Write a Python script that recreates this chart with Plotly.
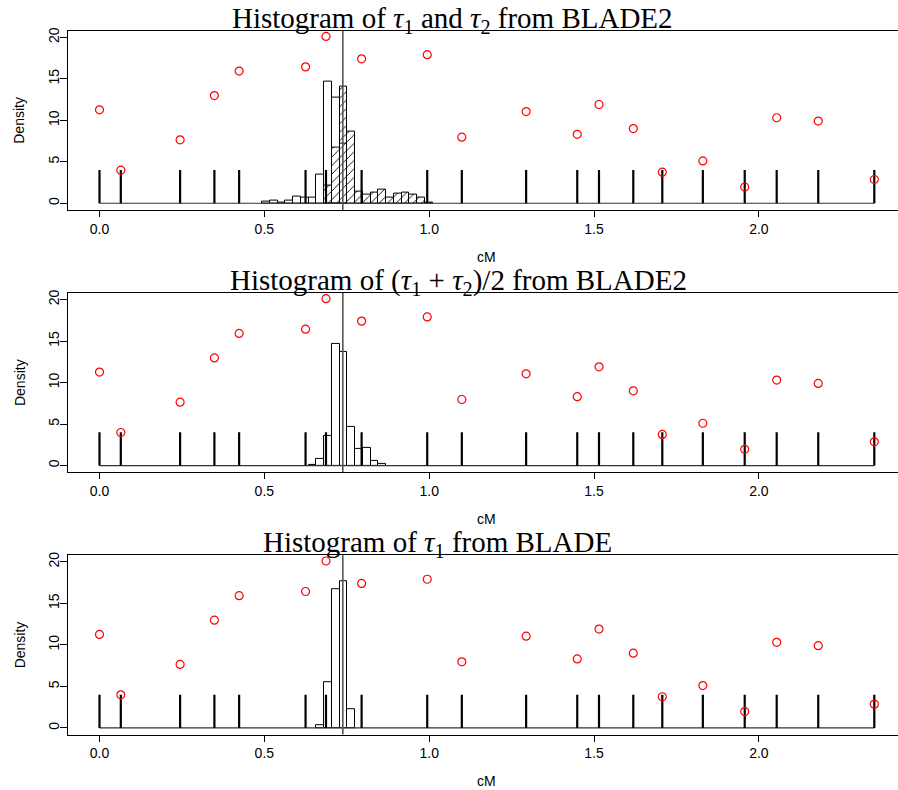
import plotly.graph_objects as go

# ---------------- data ----------------
marker_pos = [0.0, 0.0646, 0.2445, 0.3485, 0.4235, 0.625, 0.687, 0.795, 0.994, 1.099,
              1.294, 1.449, 1.515, 1.619, 1.707, 1.830, 1.957, 2.054, 2.180, 2.35]
marker_value = [11.26, 3.98, 7.64, 12.97, 15.92, 16.43, 20.1, 17.4, 17.9, 7.96,
                11.05, 8.3, 11.9, 9.0, 3.75, 5.1, 1.96, 10.3, 9.9, 2.86]
TICK_HEIGHT = 4
TRUE_POS = 0.738

BIN_WIDTH = 0.0235
tau1_start = 21
tau1_density = [0.2, 0.3, 0.1, 0.3, 0.75, 0.65, 0.7, 3.5, 14.7, 12.75, 7.2]
tau2_start = 29
tau2_density = [2.1, 6.7, 14.1, 8.6, 1.4, 1.0, 1.3, 1.6, 0.7, 1.2, 1.3, 1.0, 0.7, 0.1]
avg_start = 27
avg_density = [0.1, 0.8, 3.6, 14.6, 13.7, 4.7, 2.05, 2.1, 0.55, 0.2]
blade_start = 28
blade_density = [0.3, 5.5, 16.7, 17.7, 2.2]

x_tickvals = [0.0, 0.5, 1.0, 1.5, 2.0]
x_ticktext = ["0.0", "0.5", "1.0", "1.5", "2.0"]
y_tickvals = [0, 5, 10, 15, 20]
y_ticktext = ["0", "5", "10", "15", "20"]

titles = [
    "Histogram of <i>τ</i><sub>1</sub> and <i>τ</i><sub>2</sub> from BLADE2",
    "Histogram of (<i>τ</i><sub>1</sub> + <i>τ</i><sub>2</sub>)/2 from BLADE2",
    "Histogram of <i>τ</i><sub>1</sub> from BLADE",
]
title_center_px = [452, 458, 437]

# ---------------- layout geometry ----------------
W, H = 898, 790
PANEL_STEP = 263.3
BOX_TOP0 = 27.7
BOX_H = 180
LEFT_PX = 68
X0_PX = 99.5
PX_PER_UNIT = 329.7
x_range = [(LEFT_PX - X0_PX) / PX_PER_UNIT, (W - X0_PX) / PX_PER_UNIT]
y_range = [-0.8, 20.8]

AX_FONT = dict(family="Liberation Sans, Arial, sans-serif", size=14, color="black")
TITLE_FONT = dict(family="Liberation Serif, Times New Roman, serif", size=29, color="black")

fig = go.Figure()


def hist_bars(start, dens, xa, ya, hatched=False):
    xs = [(start + j + 0.5) * BIN_WIDTH for j in range(len(dens))]
    marker = dict(color="rgba(0,0,0,0)", line=dict(color="black", width=1))
    if hatched:
        marker["pattern"] = dict(shape="/", fgcolor="black", bgcolor="rgba(0,0,0,0)",
                                 size=6, solidity=0.15, fillmode="replace")
    return go.Bar(x=xs, y=dens, width=BIN_WIDTH, marker=marker, xaxis=xa, yaxis=ya,
                  showlegend=False, hoverinfo="skip")


panels = [
    [(tau1_start, tau1_density, False), (tau2_start, tau2_density, True)],
    [(avg_start, avg_density, False)],
    [(blade_start, blade_density, False)],
]

for i in range(3):
    sfx = "" if i == 0 else str(i + 1)
    xa, ya = "x" + sfx, "y" + sfx
    top = BOX_TOP0 + i * PANEL_STEP
    bot = top + BOX_H
    ydom = [1 - bot / H, 1 - top / H]

    for start, dens, hatched in panels[i]:
        fig.add_trace(hist_bars(start, dens, xa, ya, hatched))

    # baseline of zero-height histogram cells
    fig.add_trace(go.Scatter(x=[marker_pos[0], marker_pos[-1]], y=[0, 0], mode="lines",
                             line=dict(color="#333333", width=1.2), xaxis=xa, yaxis=ya,
                             showlegend=False, hoverinfo="skip"))
    # marker ticks
    tx, ty = [], []
    for p in marker_pos:
        tx += [p, p, None]
        ty += [0, TICK_HEIGHT, None]
    fig.add_trace(go.Scatter(x=tx, y=ty, mode="lines", line=dict(color="black", width=2.2),
                             xaxis=xa, yaxis=ya, showlegend=False, hoverinfo="skip"))
    # red circles
    fig.add_trace(go.Scatter(x=marker_pos, y=marker_value, mode="markers",
                             marker=dict(symbol="circle-open", color="red", size=8,
                                         line=dict(width=1.2, color="red")),
                             xaxis=xa, yaxis=ya, showlegend=False, hoverinfo="skip"))
    # true position line
    fig.add_shape(type="line", xref=xa, yref=ya + " domain", x0=TRUE_POS, x1=TRUE_POS,
                  y0=0, y1=1, line=dict(color="#555555", width=1.6), layer="above")

    fig.update_layout(**{
        "xaxis" + sfx: dict(domain=[LEFT_PX / W, 1], range=x_range, anchor=ya,
                            showline=True, linecolor="black", linewidth=1, mirror=True,
                            ticks="outside", ticklen=6, tickwidth=1, tickcolor="black",
                            tickvals=x_tickvals, ticktext=x_ticktext, tickfont=AX_FONT,
                            showgrid=False, zeroline=False),
        "yaxis" + sfx: dict(domain=ydom, range=y_range, anchor=xa,
                            showline=True, linecolor="black", linewidth=1,
                            ticks="outside", ticklen=7, tickwidth=1, tickcolor="black",
                            tickvals=y_tickvals, ticktext=y_ticktext, tickfont=AX_FONT,
                            tickangle=-90, ticklabelstandoff=-5,
                            showgrid=False, zeroline=False),
    })

    # axis titles
    fig.add_annotation(text="cM", x=(LEFT_PX + 905) / 2 / W, y=1 - (bot + 47) / H,
                       xref="paper", yref="paper", showarrow=False, font=AX_FONT,
                       xanchor="center", yanchor="middle")
    fig.add_annotation(text="Density", x=19.5 / W, y=1 - (top + BOX_H / 2) / H,
                       xref="paper", yref="paper", showarrow=False, font=AX_FONT,
                       textangle=-90, xanchor="center", yanchor="middle")
    # panel title
    fig.add_annotation(text=titles[i], x=title_center_px[i] / W, y=1 - (top - 11) / H,
                       xref="paper", yref="paper", showarrow=False, font=TITLE_FONT,
                       xanchor="center", yanchor="middle")

fig.update_layout(width=W, height=H, margin=dict(l=0, r=0, t=0, b=0),
                  paper_bgcolor="white", plot_bgcolor="white", barmode="overlay",
                  bargap=0, showlegend=False)

fig.write_html("out.html")
